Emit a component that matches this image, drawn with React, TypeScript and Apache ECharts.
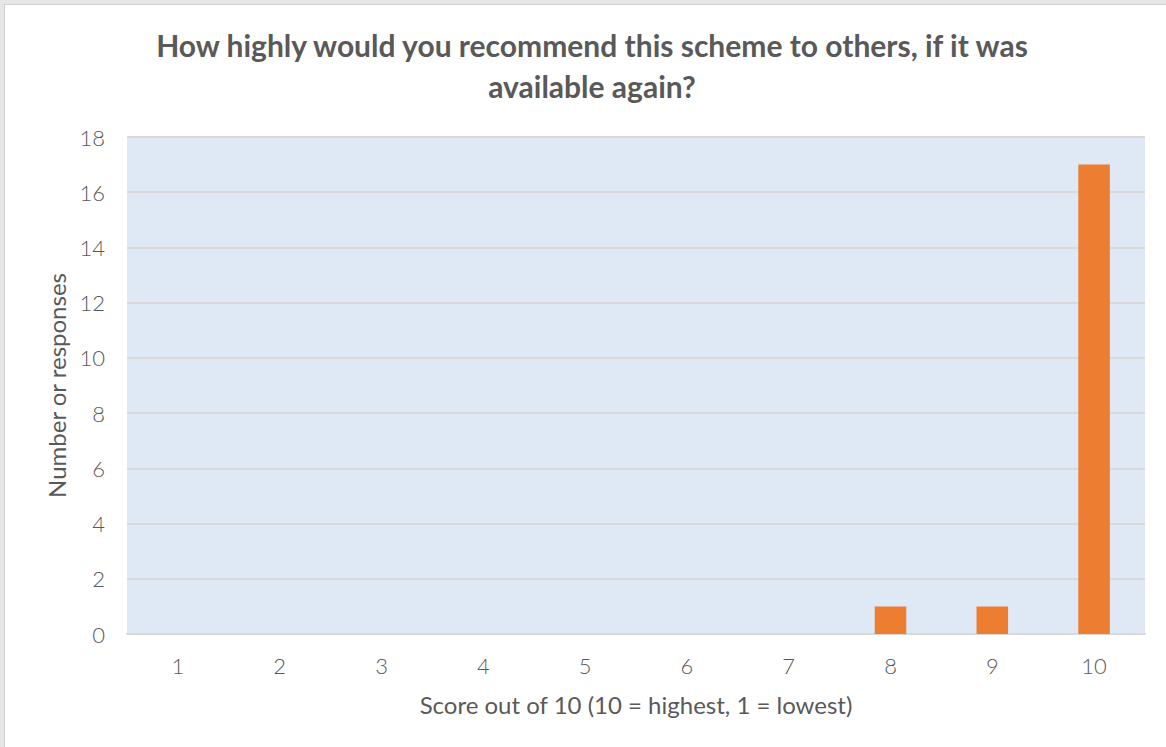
import React, { useEffect, useRef } from "react";
import * as echarts from "echarts";

const categories = ["1", "2", "3", "4", "5", "6", "7", "8", "9", "10"];
const responses = [0, 0, 0, 0, 0, 0, 0, 1, 1, 17];
const yTicks = { min: 0, max: 18, interval: 2 };
const titleText = "How highly would you recommend this scheme to others, if it was\navailable again?";
const xName = "Score out of 10 (10 = highest, 1 = lowest)";
const yName = "Number or responses";

export default function App() {
  const ref = useRef<HTMLDivElement>(null);
  useEffect(() => {
    document.body.style.margin = "0";
    const chart = echarts.init(ref.current!, null, { renderer: "svg" });
    chart.setOption({
      animation: false,
      backgroundColor: "#ffffff",
      title: {
        text: titleText,
        left: 587,
        top: 19,
        textAlign: "center",
        textStyle: {
          fontFamily: "Lato",
          fontWeight: "bold",
          fontSize: 30,
          lineHeight: 41,
          color: "#595959",
        },
      },
      grid: {
        left: 127,
        right: 21,
        top: 137,
        bottom: 113,
        show: true,
        backgroundColor: "#dee9f5",
        borderWidth: 0,
      },
      xAxis: {
        type: "category",
        data: categories,
        name: xName,
        nameLocation: "middle",
        nameGap: 58,
        nameTextStyle: { fontFamily: "Lato", fontSize: 24, color: "#595959" },
        axisLine: { lineStyle: { color: "#d9d9d9", width: 2 } },
        axisTick: { show: false },
        axisLabel: { fontFamily: "Lato", fontWeight: 300, fontSize: 22, color: "#595959", margin: 20 },
      },
      yAxis: {
        type: "value",
        min: yTicks.min,
        max: yTicks.max,
        interval: yTicks.interval,
        name: yName,
        nameLocation: "middle",
        nameGap: 58,
        nameTextStyle: { fontFamily: "Lato", fontSize: 24, color: "#595959" },
        axisLine: { show: false },
        axisTick: { show: false },
        axisLabel: { fontFamily: "Lato", fontWeight: 300, fontSize: 22, color: "#595959", margin: 22 },
        splitLine: { lineStyle: { color: "#d9d9d9", width: 2 } },
      },
      series: [
        {
          type: "bar",
          data: responses,
          barWidth: "31%",
          itemStyle: { color: "#ed7d31" },
        },
      ],
    });
    return () => chart.dispose();
  }, []);
  return (
    <div style={{ width: 1166, height: 747, background: "#e6e6e6", position: "relative" }}>
      <div
        style={{
          position: "absolute",
          left: 4,
          top: 4,
          width: 1162,
          height: 743,
          borderLeft: "1px solid #d0d0d0",
          borderTop: "1px solid #d0d0d0",
          boxSizing: "border-box",
          background: "#fff",
          overflow: "hidden",
        }}
      >
        <div ref={ref} style={{ position: "absolute", left: -5, top: -5, width: 1166, height: 747 }} />
      </div>
    </div>
  );
}
